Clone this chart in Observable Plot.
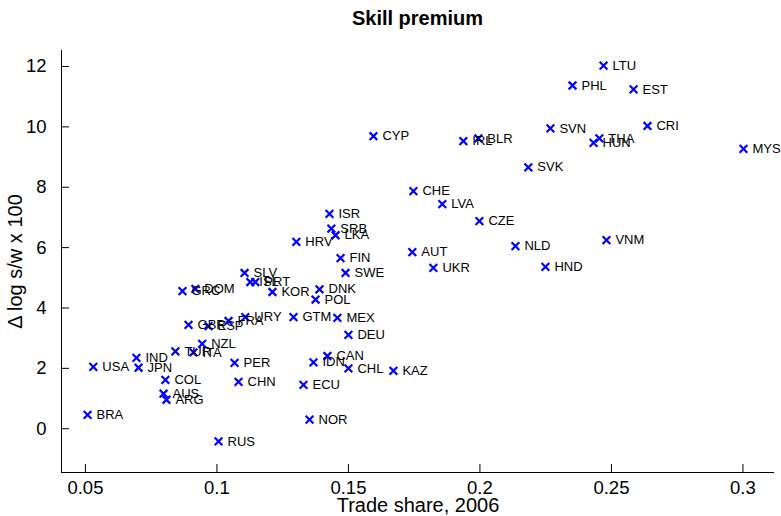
<!DOCTYPE html>
<html>
<head>
<meta charset="utf-8">
<script src="https://cdn.jsdelivr.net/npm/d3@7"></script>
<script src="https://cdn.jsdelivr.net/npm/@observablehq/plot@0.6"></script>
<style>
  body { margin: 0; background: #fff; }
  #title { width: 781px; box-sizing: border-box; padding-left: 61px; padding-right: 7px; height: 36px; line-height: 36px; text-align: center; font-family: "Liberation Sans", Arial, sans-serif; font-weight: bold; font-size: 20px; color: #000; }
</style>
</head>
<body>
<div id="title">Skill premium</div>
<div id="chart"></div>
<script>
const countries = ["LTU","PHL","EST","CRI","SVN","THA","HUN","BLR","IRL","MYS","SVK","CYP","CHE","LVA","CZE","NLD","VNM","HND","AUT","UKR","ISR","SRB","LKA","HRV","FIN","SWE","SLV","ISL","PRT","KOR","DNK","POL","GRC","DOM","GBR","ESP","FRA","URY","GTM","MEX","DEU","TUR","ITA","NZL","USA","IND","JPN","PER","CAN","IDN","CHL","KAZ","COL","CHN","ECU","AUS","ARG","BRA","NOR","RUS"];
const tradeShare = [0.2470,0.2352,0.2584,0.2637,0.2268,0.2454,0.2432,0.1994,0.1937,0.3002,0.2184,0.1595,0.1747,0.1857,0.1998,0.2135,0.2481,0.2249,0.1743,0.1823,0.1428,0.1435,0.1451,0.1302,0.1470,0.1489,0.1105,0.1127,0.1146,0.1211,0.1390,0.1375,0.0869,0.0918,0.0892,0.0968,0.1044,0.1108,0.1291,0.1458,0.1500,0.0842,0.0911,0.0944,0.0530,0.0694,0.0702,0.1067,0.1420,0.1367,0.1500,0.1671,0.0804,0.1082,0.1329,0.0797,0.0808,0.0508,0.1352,0.1006];
const skillPremium = [12.03,11.37,11.24,10.03,9.95,9.62,9.47,9.62,9.53,9.27,8.66,9.69,7.87,7.44,6.88,6.05,6.25,5.36,5.85,5.33,7.12,6.63,6.41,6.19,5.65,5.16,5.16,4.86,4.86,4.53,4.62,4.28,4.56,4.63,3.44,3.40,3.57,3.70,3.70,3.67,3.11,2.56,2.53,2.81,2.05,2.35,2.02,2.18,2.41,2.20,2.00,1.92,1.62,1.55,1.45,1.16,0.96,0.46,0.30,-0.42];
const xTicks = [0.05,0.1,0.15,0.2,0.25,0.3];
const yTicks = [0,2,4,6,8,10,12];
const xDomain = [0.0409, 0.312];
const yDomain = [-1.45, 12.53];

const data = countries.map((c, i) => ({country: c, x: tradeShare[i], y: skillPremium[i]}));

const chart = Plot.plot({
  width: 781,
  height: 480,
  marginLeft: 61,
  marginRight: 7,
  marginTop: 14,
  marginBottom: 44,
  style: {fontFamily: "Liberation Sans, Arial, sans-serif", fontSize: "18px", color: "#000", background: "#fff"},
  x: {domain: xDomain},
  y: {domain: yDomain},
  marks: [
    Plot.axisX(xTicks, {anchor: "bottom", tickSize: 0, tickPadding: 8, tickFormat: d => String(+d.toFixed(2)), label: null, fontSize: 18.5}),
    Plot.axisX([], {anchor: "bottom", tickSize: 0, label: "Trade share, 2006", labelAnchor: "center", labelArrow: "none", labelOffset: 39, fontSize: 20}),
    Plot.axisX(xTicks, {anchor: "bottom", tickSize: 8, dy: -8, text: null, label: null, strokeWidth: 1}),
    Plot.axisY(yTicks, {anchor: "left", tickSize: 0, tickPadding: 15, label: null, fontSize: 18.5}),
    Plot.axisY([], {anchor: "left", tickSize: 0, label: "Δ log s/w x 100", labelAnchor: "center", labelArrow: "none", labelOffset: 54, fontSize: 20}),
    Plot.axisY(yTicks, {anchor: "left", tickSize: 8, dx: 8, text: null, label: null, strokeWidth: 1}),
    Plot.ruleY([yDomain[0]], {stroke: "#000"}),
    Plot.ruleX([xDomain[0]], {stroke: "#000"}),
    Plot.dot(data, {x: "x", y: "y", symbol: "times", r: 3.6, stroke: "#0000ff", strokeWidth: 2.2}),
    Plot.text(data, {x: "x", y: "y", text: "country", textAnchor: "start", dx: 9, fontSize: 13, fill: "#000"})
  ]
});
document.getElementById("chart").appendChild(chart);
</script>
</body>
</html>
